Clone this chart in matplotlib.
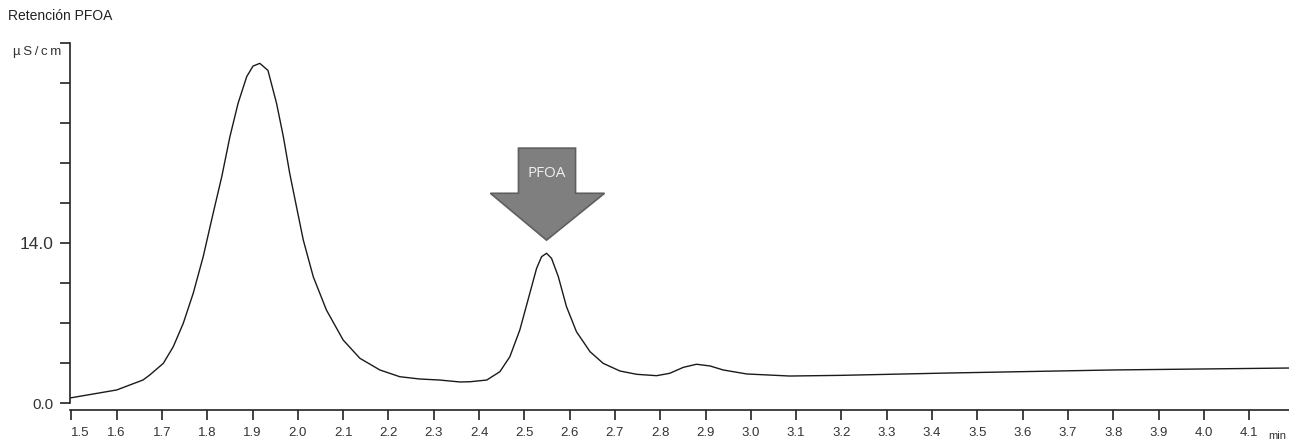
"""Cromatograma de retención de PFOA (conductividad vs. tiempo)."""

import matplotlib

matplotlib.use("Agg")
import matplotlib.pyplot as plt
from matplotlib.patches import Polygon

plt.rcParams["font.family"] = ["Liberation Sans", "DejaVu Sans"]

time_min = [1.497, 1.600, 1.658, 1.673, 1.703, 1.725, 1.747, 1.769, 1.791,
            1.813, 1.832, 1.850, 1.868, 1.887, 1.901, 1.916, 1.934, 1.953,
            1.968, 1.982, 1.997, 2.012, 2.034, 2.063, 2.100, 2.137, 2.181,
            2.225, 2.269, 2.313, 2.358, 2.380, 2.417, 2.446, 2.468, 2.490,
            2.508, 2.527, 2.538, 2.549, 2.560, 2.575, 2.593, 2.615, 2.645,
            2.674, 2.711, 2.748, 2.792, 2.821, 2.851, 2.880, 2.910, 2.939,
            2.991, 3.086, 3.200, 3.432, 3.799, 4.188]
signal_uScm = [0.44, 1.14, 2.01, 2.45, 3.47, 4.93, 6.97, 9.60, 12.80,
               16.60, 19.80, 23.30, 26.22, 28.55, 29.48, 29.72, 29.10, 26.22,
               23.30, 20.10, 17.17, 14.26, 11.05, 8.14, 5.51, 3.91, 2.89,
               2.30, 2.10, 2.01, 1.84, 1.86, 2.01, 2.74, 4.05, 6.39,
               9.01, 11.78, 12.80, 13.10, 12.66, 11.05, 8.43, 6.24, 4.49,
               3.47, 2.80, 2.51, 2.39, 2.60, 3.12, 3.39, 3.24, 2.89,
               2.54, 2.36, 2.42, 2.62, 2.89, 3.06]

x_ticks = [round(1.5 + 0.1 * i, 1) for i in range(27)]
y_ticks = [3.5 * i for i in range(10)]
y_labels = {0.0: "0.0", 14.0: "14.0"}

PFOA_TIME = 2.549
PFOA_HEIGHT = 13.10

fig = plt.figure(figsize=(12.89, 4.40), dpi=100)
ax = fig.add_axes([70 / 1289, 37 / 440, 1 - 70 / 1289, 360 / 440])

ax.plot(time_min, signal_uScm, color="#1a1a1a", linewidth=1.0)

ax.set_xlim(1.497, 4.188)
ax.set_ylim(0, 31.5)

for side in ("top", "right"):
    ax.spines[side].set_visible(False)
ax.spines["bottom"].set_position(("outward", 5))
for side in ("left", "bottom"):
    ax.spines[side].set_color("#222222")
    ax.spines[side].set_linewidth(1.2)

ax.set_xticks(x_ticks)
ax.set_xticklabels([f"{t:.1f}" for t in x_ticks])
ax.set_yticks(y_ticks)
ax.set_yticklabels([y_labels.get(v, "") for v in y_ticks])
ax.tick_params(axis="both", direction="out", length=7, width=1.2,
               color="#222222", labelcolor="#333333")
ax.tick_params(axis="x", labelsize=9.5, pad=5)
ax.tick_params(axis="y", labelsize=11, pad=5)
for lab in ax.get_yticklabels():
    if lab.get_text() == "14.0":
        lab.set_fontsize(12.5)
ax.get_xticklabels()[0].set_horizontalalignment("left")

# flecha que marca el pico de PFOA
tip_y = PFOA_HEIGHT + 1.15
head_y = tip_y + 4.1
top_y = tip_y + 8.05
arrow = Polygon([
    (PFOA_TIME - 0.062, top_y), (PFOA_TIME + 0.064, top_y),
    (PFOA_TIME + 0.064, head_y), (PFOA_TIME + 0.128, head_y),
    (PFOA_TIME, tip_y), (PFOA_TIME - 0.124, head_y),
    (PFOA_TIME - 0.062, head_y)],
    closed=True, facecolor="#7f7f7f", edgecolor="#5f5f5f", linewidth=1.2,
    clip_on=False, zorder=3)
ax.add_patch(arrow)
ax.text(PFOA_TIME, top_y - 2.2, "PFOA", ha="center", va="center",
        fontsize=11, color="#eeeeee", family="Open Sans", zorder=4)

fig.text(8 / 1289, 1 - 16 / 440, "Retención PFOA", ha="left", va="center",
         fontsize=10, color="#222222")
fig.text(13 / 1289, 1 - 52 / 440, "µ\u2009S\u2009/\u2009c\u2009m", ha="left",
         va="center", fontsize=9.5, color="#333333")
fig.text(1268 / 1289, 1 - 436 / 440, "min", ha="left", va="center",
         fontsize=8, color="#333333")

fig.savefig("out.png", dpi=100)
